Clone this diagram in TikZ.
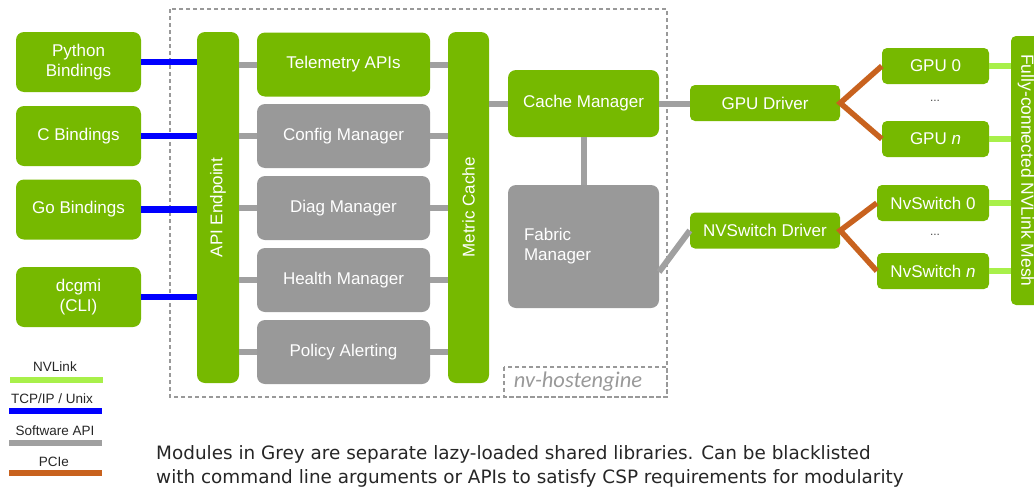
\documentclass[tikz,border=0pt]{standalone}
\usepackage{fontspec}
\setmainfont{Liberation Sans}
\newfontfamily\notefont{DejaVu Sans}
\newfontfamily\tagfont{Carlito}
\usepackage{tikz}
\usetikzlibrary{calc}

\definecolor{nvgreen}{HTML}{76B900}
\definecolor{modgrey}{HTML}{999999}
\definecolor{swgrey}{HTML}{A0A0A0}
\definecolor{pcieorange}{HTML}{C8621E}
\definecolor{linkgreen}{HTML}{A8F04A}

\begin{document}
\begin{tikzpicture}[
    x = 1pt, y = -1pt,
    every node/.style = {inner sep = 0pt, text = white,
      font = \fontsize{17}{20}\selectfont},
    greenbox/.style = {fill = nvgreen, rounded corners = 8pt, align = center},
    greybox/.style  = {fill = modgrey, rounded corners = 8pt, align = center},
    smallbox/.style = {fill = nvgreen, rounded corners = 5pt,
      minimum height = 36pt},
    binding/.style  = {greenbox, minimum width = 125pt, minimum height = 60pt},
    module/.style   = {greybox, minimum width = 173pt, minimum height = 64pt},
    tcp/.style      = {draw = blue, line width = 6.5pt},
    swapi/.style    = {draw = swgrey, line width = 6pt},
    pcie/.style     = {draw = pcieorange, line width = 5.5pt},
    nvlink/.style   = {draw = linkgreen, line width = 6pt},
    legend/.style   = {text = black!85, font = \fontsize{13.5}{15}\selectfont}
  ]
  \useasboundingbox (0,0) rectangle (1034,490);

  % host engine frame
  \draw[modgrey, line width = 1.3pt, dash pattern = on 4pt off 3pt]
    (170,9) rectangle (667,397);
  \draw[modgrey, line width = 1.3pt, dash pattern = on 4pt off 3pt]
    (504,367) rectangle (667,397);
  \node[text = modgrey, font = \tagfont\itshape\fontsize{22.5}{25}\selectfont]
    (he) at (578,382) {nv-hostengine};

  % clients
  \node[binding] (py)  at (78.5,62)  {Python\\Bindings};
  \node[binding] (cb)  at (78.5,136) {C Bindings};
  \node[binding] (go)  at (78.5,209.5) {Go Bindings};
  \node[binding] (cli) at (78.5,297) {dcgmi\\(CLI)};

  % inside the host engine
  \node[greenbox, minimum width = 42pt, minimum height = 351pt]
    (api) at (218,207.5) {\rotatebox{90}{API Endpoint}};
  \node[greenbox, minimum width = 41pt, minimum height = 351pt]
    (mc) at (468.5,207.5) {\rotatebox{90}{Metric Cache}};
  \node[module, fill = nvgreen] (tel) at (343.5,64.5) {Telemetry APIs};
  \node[module] (cfg) at (343.5,136) {Config Manager};
  \node[module] (dia) at (343.5,208) {Diag Manager};
  \node[module] (hlt) at (343.5,280) {Health Manager};
  \node[module] (pol) at (343.5,352) {Policy Alerting};
  \node[greenbox, minimum width = 151pt, minimum height = 67pt]
    (cm) at (583.5,103.5) {Cache Manager};
  \node[greybox, minimum width = 151pt, minimum height = 123pt,
    text width = 119pt, align = left]
    (fm) at (583.5,246.5) {Fabric\\Manager};
  \coordinate (fmlink) at (659,272);

  % drivers and devices
  \node[smallbox, minimum width = 150pt] (gd)  at (765,103)   {GPU Driver};
  \node[smallbox, minimum width = 150pt] (nsd) at (765,230.5) {NVSwitch Driver};
  \node[smallbox, minimum width = 107pt] (g0)  at (935.5,66)  {GPU 0};
  \node[smallbox, minimum width = 107pt] (gn)  at (935.5,139) {GPU \textit{n}};
  \node[smallbox, minimum width = 112pt] (ns0) at (933,203)   {NvSwitch 0};
  \node[smallbox, minimum width = 112pt] (nsn) at (933,271)   {NvSwitch \textit{n}};
  \node[text = black!70, font = \fontsize{12}{14}\selectfont]
    (gdots) at (935,101) {...};
  \node[text = black!70, font = \fontsize{12}{14}\selectfont]
    (nsdots) at (935,235) {...};
  \node[smallbox, minimum width = 30pt, minimum height = 269pt,
    font = \fontsize{17.5}{20}\selectfont]
    (mesh) at (1026,170.5) {\rotatebox{-90}{Fully-connected NVLink Mesh}};

  % connectors
  \foreach \c in {py, cb, go, cli}
    \draw[tcp] (\c.east) -- (\c.east -| api.west);
  \foreach \m in {tel, cfg, dia, hlt, pol} {
    \draw[swapi] (\m.west -| api.east) -- (\m.west);
    \draw[swapi] (\m.east) -- (\m.east -| mc.west);
  }
  \draw[swapi] (cm.west -| mc.east) -- (cm.west);
  \draw[swapi] (cm.south) -- (fm.north);
  \draw[swapi] (cm.east) -- (cm.east -| gd.west);
  \draw[swapi] (fmlink) -- (nsd.west);
  \draw[pcie] (g0.west) -- (gd.east) -- (gn.west);
  \draw[pcie] (ns0.west) -- (nsd.east) -- (nsn.west);
  \foreach \d in {g0, gn, ns0, nsn}
    \draw[nvlink] (\d.east) -- (\d.east -| mesh.west);

  % legend
  \node[legend] (lnv)  at (55,367) {NVLink};
  \draw[nvlink] (10,380) -- (103,380);
  \node[legend] (ltcp) at (52,399) {TCP/IP / Unix};
  \draw[tcp] (9,411) -- (102,411);
  \node[legend] (lsw)  at (55,431) {Software API};
  \draw[swapi] (9,443) -- (102,443);
  \node[legend] (lpc)  at (54,462) {PCIe};
  \draw[pcie] (9,473) -- (102,473);

  % note
  \node[anchor = west, align = left, text = black!85,
    font = \notefont\fontsize{18.4}{24}\selectfont] (note) at (156,466)
    {Modules in Grey are separate lazy-loaded shared libraries. Can be blacklisted\\
     with command line arguments or APIs to satisfy CSP requirements for modularity};
\end{tikzpicture}
\end{document}
